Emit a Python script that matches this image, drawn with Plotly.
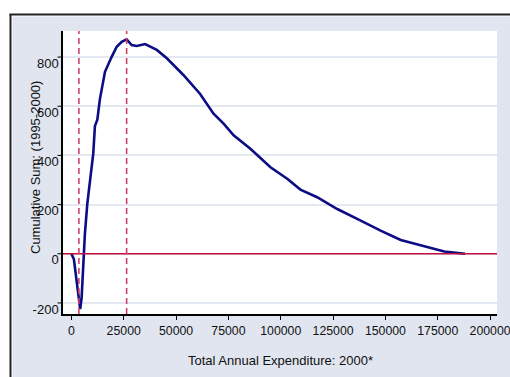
import plotly.graph_objects as go

# Data
expenditure = [0, 1200, 2500, 3600, 4200, 4900, 5650, 6450, 7600, 8850, 10450, 11250,
               12400, 13650, 16050, 19250, 21650, 24050, 26400, 28800, 31200, 35200,
               40800, 45600, 53500, 61500, 67900, 72700, 77500, 85500, 95100, 103100,
               109400, 117400, 127000, 138200, 147700, 157300, 166900, 178100, 188000]
cusum = [0, -22, -110, -192, -225, -178, -29, 80, 203, 298, 407, 520,
         545, 630, 740, 801, 842, 862, 872, 849, 845, 853,
         829, 795, 727, 650, 570, 529, 482, 427, 352, 305,
         261, 230, 182, 135, 94, 56, 33, 9, 0]
break_points = [3600, 26400]
x_ticks = [0, 25000, 50000, 75000, 100000, 125000, 150000, 175000, 200000]
y_ticks = [-200, 0, 200, 400, 600, 800]

W, H = 510, 377
L, R, T, B = 63, 497, 31, 314
pw, ph = R - L, B - T

def px(xp):
    return (xp - L) / pw

def py(yp):
    return (B - yp) / ph

BG = "#e0e5ef"
GRID = "#e3e8f1"
FONT = "Liberation Sans, Arial, sans-serif"
FS = 13

fig = go.Figure()
fig.add_trace(go.Scatter(x=expenditure, y=cusum, mode="lines",
                         line=dict(color="#0c0c84", width=2.6), hoverinfo="skip",
                         showlegend=False))

shapes = []
# y tick marks (drawn at the tick values through the y axis)
for yv in y_ticks:
    shapes.append(dict(type="line", xref="paper", yref="y", x0=px(57.5), x1=0, y0=yv, y1=yv,
                       line=dict(color="#000000", width=1), layer="above"))
# zero line
shapes.append(dict(type="line", xref="paper", yref="y", x0=0, x1=1, y0=0, y1=0,
                   line=dict(color="#c4103e", width=1.6), layer="above"))
for bp in break_points:
    shapes.append(dict(type="line", xref="x", yref="paper", x0=bp, x1=bp, y0=0, y1=1,
                       line=dict(color="#d2406a", width=1.6, dash="6px,4px"), layer="above"))
# white strips outside the frame
shapes.append(dict(type="rect", xref="paper", yref="paper", x0=px(-5), x1=px(12.5),
                   y0=py(H + 5), y1=py(-5), fillcolor="white", line=dict(width=0), layer="below"))
shapes.append(dict(type="rect", xref="paper", yref="paper", x0=px(-5), x1=px(W + 5),
                   y0=py(16.5), y1=py(-5), fillcolor="white", line=dict(width=0), layer="below"))
# frame lines
shapes.append(dict(type="line", xref="paper", yref="paper", x0=px(9.5), x1=px(W + 5),
                   y0=py(14.5), y1=py(14.5), line=dict(color="#222222", width=2), layer="below"))
shapes.append(dict(type="line", xref="paper", yref="paper", x0=px(10.5), x1=px(10.5),
                   y0=py(14), y1=py(H + 5), line=dict(color="#222222", width=2), layer="below"))

fig.update_layout(
    template="none",
    width=W, height=H,
    margin=dict(l=L, r=W - R, t=T, b=H - B, pad=0, autoexpand=False),
    paper_bgcolor=BG, plot_bgcolor="white",
    font=dict(family=FONT, size=FS, color="#111111"),
    shapes=shapes,
    showlegend=False,
    xaxis=dict(range=[-4000, 203300], tickvals=x_ticks, ticktext=[str(v) for v in x_ticks],
               showgrid=False, zeroline=False, showline=True, linecolor="#000000", linewidth=1.5,
               ticks="outside", ticklen=4, tickcolor="#000000", tickwidth=1,
               automargin=False, ticklabeloverflow="allow",
               tickfont=dict(size=12.3, family=FONT, color="#111111")),
    yaxis=dict(range=[-245, 906], tickvals=y_ticks, ticktext=[str(v) for v in y_ticks],
               showgrid=True, gridcolor=GRID, gridwidth=2, zeroline=False,
               showline=True, linecolor="#000000", linewidth=1.5,
               ticks="", ticklabelshift=6, automargin=False, ticklabeloverflow="allow",
               tickfont=dict(size=FS, family=FONT, color="#111111")),
    annotations=[
        dict(text="Total Annual Expenditure: 2000*", xref="paper", yref="paper",
             x=0.5, y=py(360), showarrow=False, xanchor="center", yanchor="middle",
             font=dict(size=FS, family=FONT, color="#111111")),
        dict(text="Cumulative Sum: (1995-2000)", xref="paper", yref="paper",
             x=px(35), y=py(168), showarrow=False, xanchor="center", yanchor="middle",
             textangle=-90, font=dict(size=FS, family=FONT, color="#111111")),
    ],
)

fig.write_html("out.html", config={"displayModeBar": False},
               post_script="document.body.style.margin='0px';document.body.style.overflow='hidden';")
